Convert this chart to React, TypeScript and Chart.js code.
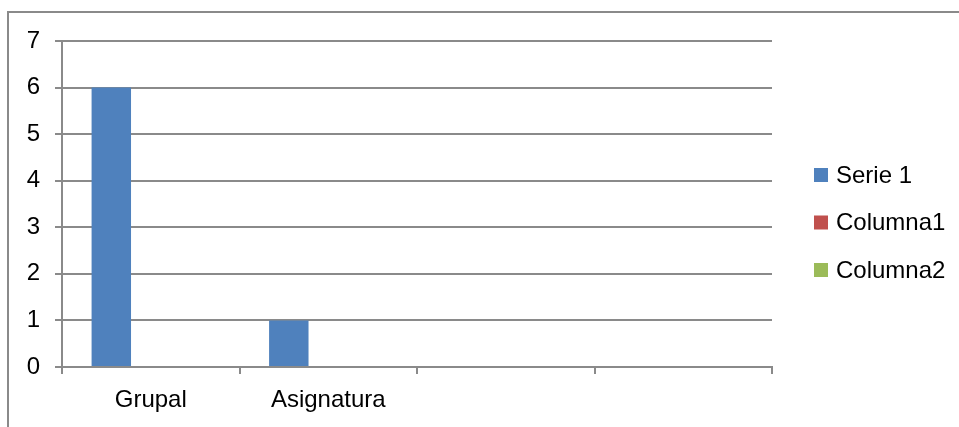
import React, { useEffect, useRef } from "react";
import { Chart, registerables } from "chart.js";

Chart.register(...registerables);

const categories = ["Grupal", "Asignatura", "", ""];
const serie1 = [6, 1, null, null];
const columna1 = [null, null, null, null];
const columna2 = [null, null, null, null];
const seriesNames = ["Serie 1", "Columna1", "Columna2"];
const seriesColors = ["#4F81BD", "#C0504D", "#9BBB59"];
const yTicksMin = 0;
const yTicksMax = 7;

const GRID = "#8a8a8a";
const FONT = "'Liberation Sans', Arial, sans-serif";

const framePlugin = {
  id: "frame",
  beforeDraw(chart: any) {
    const ctx = chart.ctx;
    ctx.save();
    ctx.fillStyle = "#ffffff";
    ctx.fillRect(0, 0, chart.width, chart.height);
    ctx.strokeStyle = GRID;
    ctx.lineWidth = 2;
    ctx.beginPath();
    ctx.moveTo(8, chart.height + 2);
    ctx.lineTo(8, 12);
    ctx.lineTo(chart.width + 2, 12);
    ctx.stroke();
    ctx.restore();
  },
};

const legendPlugin = {
  id: "customLegend",
  afterDraw(chart: any) {
    const ctx = chart.ctx;
    ctx.save();
    ctx.font = `24px ${FONT}`;
    ctx.textBaseline = "middle";
    ctx.textAlign = "left";
    chart.data.datasets.forEach((ds: any, i: number) => {
      const cy = 175 + i * 47.5;
      ctx.fillStyle = ds.backgroundColor;
      ctx.fillRect(814, cy - 7, 14, 14);
      ctx.fillStyle = "#000";
      ctx.fillText(ds.label, 836, cy + 1);
    });
    ctx.restore();
  },
};

export default function App() {
  const ref = useRef<HTMLCanvasElement | null>(null);

  useEffect(() => {
    if (!ref.current) return;
    const chart = new Chart(ref.current, {
      type: "bar",
      data: {
        labels: categories,
        datasets: [
          { label: seriesNames[0], data: serie1, backgroundColor: seriesColors[0] },
          { label: seriesNames[1], data: columna1, backgroundColor: seriesColors[1] },
          { label: seriesNames[2], data: columna2, backgroundColor: seriesColors[2] },
        ],
      },
      options: {
        responsive: false,
        animation: false,
        devicePixelRatio: 1,
        layout: { padding: { left: 0, top: 41, right: 187, bottom: 0 } },
        datasets: { bar: { categoryPercentage: 2 / 3, barPercentage: 1 } },
        plugins: {
          legend: { display: false },
          tooltip: { enabled: false },
        },
        scales: {
          x: {
            grid: {
              offset: true,
              drawOnChartArea: false,
              drawTicks: true,
              tickLength: 7,
              color: GRID,
              lineWidth: 2,
            },
            border: { display: true, color: GRID, width: 2 },
            ticks: {
              color: "#000",
              font: { family: FONT, size: 24 },
              padding: 12,
              maxRotation: 0,
              autoSkip: false,
            },
            afterFit: (s: any) => {
              s.height = 60;
            },
          },
          y: {
            min: yTicksMin,
            max: yTicksMax,
            grid: {
              color: GRID,
              lineWidth: 2,
              tickLength: 7,
              drawTicks: true,
            },
            border: { display: true, color: GRID, width: 2 },
            ticks: {
              stepSize: 1,
              color: "#000",
              font: { family: FONT, size: 24 },
              padding: 15,
            },
            afterFit: (s: any) => {
              s.width = 62;
            },
          },
        },
      },
      plugins: [framePlugin, legendPlugin],
    });
    return () => chart.destroy();
  }, []);

  return (
    <canvas
      ref={ref}
      width={959}
      height={427}
      style={{ position: "fixed", left: 0, top: 0, width: 959, height: 427 }}
    />
  );
}
